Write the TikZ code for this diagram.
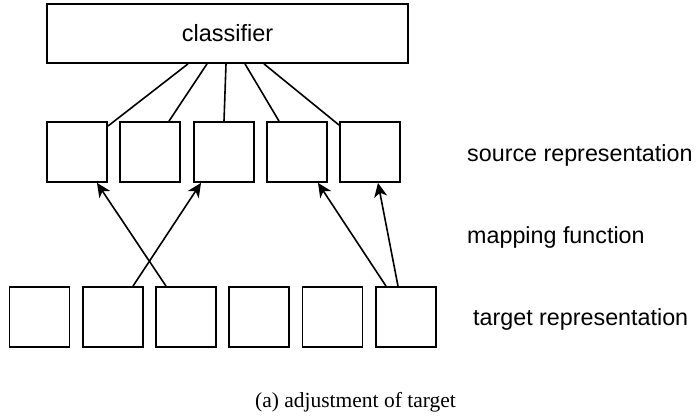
\documentclass[tikz,border=0pt]{standalone}
\usepackage{fontspec}
\setmainfont{Liberation Serif}
\newfontfamily\arialf{Liberation Sans}
\usetikzlibrary{arrows.meta}
\begin{document}
\begin{tikzpicture}[x=1pt,y=-1pt,
  boxst/.style={draw, line width=1.8pt, inner sep=0pt, minimum width=60pt, minimum height=60pt},
  conn/.style={line width=1.6pt},
  arr/.style={line width=1.6pt, -{Stealth[length=14pt,width=13pt,inset=4pt]}},
  lbl/.style={anchor=base west, inner sep=0pt, font=\arialf\fontsize{23.3}{27}\selectfont}]
\useasboundingbox (0,0) rectangle (697,418);
\node[draw, line width=1.8pt, inner sep=0pt, minimum width=361pt, minimum height=59pt] (cls) at (227.5,33.5) {};
\node[anchor=base, inner sep=0pt, font=\arialf\fontsize{23.5}{27}\selectfont] (clst) at (227.5,41.5) {classifier};
\node[boxst] (s1) at (77,152) {};
\node[boxst] (s2) at (150,152) {};
\node[boxst] (s3) at (224,152) {};
\node[boxst] (s4) at (297,152) {};
\node[boxst] (s5) at (370,152) {};
\node[boxst] (t1) at (39.5,317) {};
\node[boxst] (t2) at (113,317) {};
\node[boxst] (t3) at (186,317) {};
\node[boxst] (t4) at (259,317) {};
\node[boxst] (t5) at (332.5,317) {};
\node[boxst] (t6) at (406,317) {};
\draw[conn] ([xshift=-39.5pt]cls.south) -- ([yshift=-5pt]s1.north east);
\draw[conn] ([xshift=-20.5pt]cls.south) -- ([xshift=19pt]s2.north);
\draw[conn] ([xshift=-1.5pt]cls.south) -- (s3.north);
\draw[conn] ([xshift=17.5pt]cls.south) -- ([xshift=-18pt]s4.north);
\draw[conn] ([xshift=36.5pt]cls.south) -- ([yshift=-4pt]s5.north west);
\draw[arr] ([xshift=-20pt]t3.north) -- ([xshift=20pt]s1.south);
\draw[arr] ([xshift=20pt]t2.north) -- ([xshift=-23pt]s3.south);
\draw[arr] ([xshift=-20pt]t6.north) -- ([xshift=21pt]s4.south);
\draw[arr] ([xshift=-8pt]t6.north) -- ([xshift=8pt]s5.south);
\node[lbl] (ls) at (467,161.5) {source representation};
\node[lbl] (lm) at (467,243) {mapping function};
\node[lbl] (lt) at (473,325) {target representation};
\node[anchor=base, inner sep=0pt, font=\fontsize{21.5}{26}\selectfont] (cap) at (355.5,407) {(a)\ adjustment\ of\ target};
\end{tikzpicture}
\end{document}
